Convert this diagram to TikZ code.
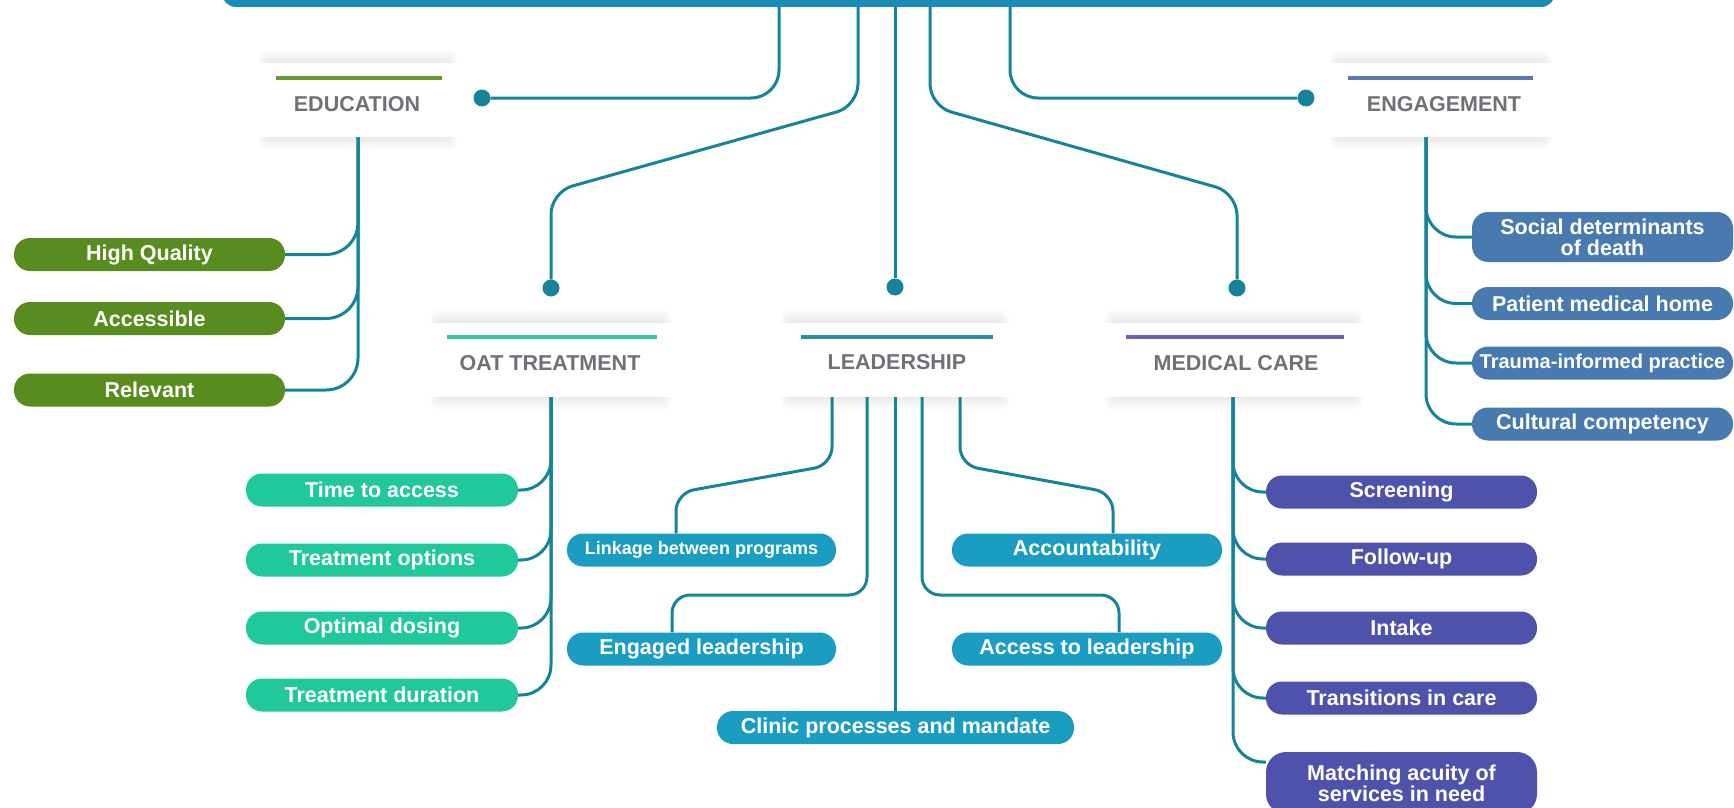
\documentclass[tikz,border=0pt]{standalone}
\usepackage{fontspec}
\setmainfont{Liberation Sans}
\usetikzlibrary{calc}
\pgfdeclarelayer{shadowlayer}
\pgfdeclarelayer{bg}
\pgfsetlayers{shadowlayer,bg,main}
\definecolor{barblue}{RGB}{26,139,180}
\definecolor{conncol}{RGB}{22,132,152}
\definecolor{edugreen}{RGB}{88,140,30}
\definecolor{oatgreen}{RGB}{32,200,155}
\definecolor{leadblue}{RGB}{27,156,193}
\definecolor{medpurple}{RGB}{79,82,170}
\definecolor{engblue}{RGB}{72,122,176}
\definecolor{titlegray}{RGB}{112,112,118}
\definecolor{eduline}{RGB}{104,152,48}
\definecolor{oatline}{RGB}{52,200,165}
\definecolor{leadline}{RGB}{45,140,160}
\definecolor{medline}{RGB}{105,98,182}
\definecolor{engline}{RGB}{88,122,176}
\tikzset{
  conn/.style={draw=conncol, line width=3pt},
  dotmark/.style={circle, fill=conncol, inner sep=0pt, minimum size=17pt},
  leaf/.style={rounded corners=16pt, minimum height=33pt, inner sep=0pt, text=white,
    font=\bfseries\fontsize{21.5}{21}\selectfont, align=center},
  card/.style={fill=white, minimum height=74pt, inner sep=0pt},
  cardtitle/.style={text=titlegray, font=\bfseries\fontsize{21.5}{24}\selectfont, inner sep=0pt},
  cardline/.style={line width=4pt},
}
\newcommand{\cardshadow}[4]{%
  \begin{pgfonlayer}{shadowlayer}
  \foreach \k in {1,...,10}{%
    \fill[black, opacity=0.0065, rounded corners=8pt] (#1+14-\k*0.6, #2-\k*1.3) rectangle (#3-14+\k*0.6, #4+\k*1.3);
  }
  \end{pgfonlayer}}
\begin{document}
\begin{tikzpicture}[x=1pt,y=-1pt]
\useasboundingbox (0,0) rectangle (1734,808);
\clip (0,0) rectangle (1734,808);

% top bar
\node[fill=barblue, rounded corners=14pt, minimum width=1333pt, minimum height=60pt, inner sep=0pt] (top) at (888.5,-23) {};

% dots
\node[dotmark] (d1) at (482,98) {};
\node[dotmark] (d2) at (551,288) {};
\node[dotmark] (d3) at (895,287) {};
\node[dotmark] (d4) at (1237,288) {};
\node[dotmark] (d5) at (1306,98) {};

% cards
\cardshadow{250.5}{63}{465.5}{137}
\node[card, minimum width=215pt] (educ) at (358,100) {};
\node[cardtitle] (educT) at (357,104) {EDUCATION};
\draw[cardline, eduline] ($(educ.north west)+(26,15)$) -- ($(educ.north east)+(-24,15)$);

\cardshadow{1321}{63}{1560}{137}
\node[card, minimum width=239pt] (eng) at (1440.5,100) {};
\node[cardtitle] (engT) at (1444,104) {ENGAGEMENT};
\draw[cardline, engline] ($(eng.north west)+(27,15)$) -- ($(eng.north east)+(-27,15)$);

\cardshadow{422.5}{322}{679.5}{397}
\node[card, minimum width=257pt] (oat) at (551,359.5) {};
\node[cardtitle] (oatT) at (550,363) {OAT TREATMENT};
\draw[cardline, oatline] ($(oat.north west)+(24.5,15)$) -- ($(oat.north east)+(-22.5,15)$);

\cardshadow{773}{322}{1017}{397}
\node[card, minimum width=244pt] (lead) at (895,359.5) {};
\node[cardtitle] (leadT) at (897,362.5) {LEADERSHIP};
\draw[cardline, leadline] ($(lead.north west)+(28,15)$) -- ($(lead.north east)+(-24,15)$);

\cardshadow{1097}{322}{1371}{397}
\node[card, minimum width=274pt] (med) at (1234,359.5) {};
\node[cardtitle] (medT) at (1236,363) {MEDICAL CARE};
\draw[cardline, medline] ($(med.north west)+(29,15)$) -- ($(med.north east)+(-27,15)$);

% education leaves
\node[leaf, fill=edugreen, minimum width=271pt] (hq) at (149.5,254.5) {High Quality};
\node[leaf, fill=edugreen, minimum width=271pt] (acc) at (149.5,318.5) {Accessible};
\node[leaf, fill=edugreen, minimum width=271pt] (rel) at (149.5,390) {Relevant};

% OAT leaves
\node[leaf, fill=oatgreen, minimum width=272pt] (tta) at (382,490) {Time to access};
\node[leaf, fill=oatgreen, minimum width=272pt] (topt) at (382,560) {Treatment options};
\node[leaf, fill=oatgreen, minimum width=272pt] (odos) at (382,628) {Optimal dosing};
\node[leaf, fill=oatgreen, minimum width=272pt] (tdur) at (382,695) {Treatment duration};

% leadership leaves
\node[leaf, fill=leadblue, minimum width=269pt, font=\bfseries\fontsize{18}{20}\selectfont] (link) at (701.5,550) {Linkage between programs};
\node[leaf, fill=leadblue, minimum width=269pt] (engl) at (701.5,649) {Engaged leadership};
\node[leaf, fill=leadblue, minimum width=357pt] (clin) at (895.5,727.5) {Clinic processes and mandate};
\node[leaf, fill=leadblue, minimum width=270pt] (acct) at (1087,550) {Accountability};
\node[leaf, fill=leadblue, minimum width=270pt] (accl) at (1087,649) {Access to leadership};

% medical leaves
\node[leaf, fill=medpurple, minimum width=271pt] (scr) at (1401.5,492) {Screening};
\node[leaf, fill=medpurple, minimum width=271pt] (fol) at (1401.5,559) {Follow-up};
\node[leaf, fill=medpurple, minimum width=271pt] (intk) at (1401.5,628) {Intake};
\node[leaf, fill=medpurple, minimum width=271pt] (trans) at (1401.5,698) {Transitions in care};
\node[leaf, fill=medpurple, minimum width=271pt, minimum height=62pt, rounded corners=20pt] (match) at (1401.5,783) {Matching acuity of\\services in need};

% engagement leaves
\node[leaf, fill=engblue, minimum width=261pt, minimum height=50pt] (soc) at (1602.5,237) {Social determinants\\of death};
\node[leaf, fill=engblue, minimum width=261pt] (pmh) at (1602.5,303.5) {Patient medical home};
\node[leaf, fill=engblue, minimum width=261pt, font=\bfseries\fontsize{20}{22}\selectfont] (tip) at (1602.5,363) {Trauma-informed practice};
\node[leaf, fill=engblue, minimum width=261pt] (cc) at (1602.5,424) {Cultural competency};

% connectors
\begin{pgfonlayer}{bg}
\draw[conn, rounded corners=28pt] (top.south -| 779,0) |- (d1);
\draw[conn, rounded corners=22pt] (top.south -| 858,0) -- (858,106) -- (551,192) -- (d2);
\draw[conn] (top.south -| 895,0) -- (d3);
\draw[conn, rounded corners=22pt] (top.south -| 930,0) -- (930,106) -- (1237,193) -- (d4);
\draw[conn, rounded corners=28pt] (top.south -| 1010,0) |- (d5);

\foreach \n in {hq,acc,rel}
  \draw[conn, rounded corners=32pt] (educ.south) |- (\n.east);
\foreach \n in {tta,topt,odos,tdur}
  \draw[conn, rounded corners=30pt] (oat.south) |- (\n.east);
\foreach \n in {scr,fol,intk,trans}
  \draw[conn, rounded corners=30pt] (med.south -| 1233,0) |- (\n.west);
\draw[conn, rounded corners=30pt] (med.south -| 1233,0) |- ($(match.west)+(0,-21)$);
\foreach \n in {soc,pmh,tip,cc}
  \draw[conn, rounded corners=30pt] (eng.south -| 1426,0) |- (\n.west);

\draw[conn, rounded corners=18pt] (lead.south -| 832,0) -- (832,465) -- (676,493) -- (link.north -| 676,0);
\draw[conn, rounded corners=18pt] (lead.south -| 867,0) -- (867,595) -- (672,595) -- (engl.north -| 672,0);
\draw[conn] (lead.south) -- (clin.north -| lead.south);
\draw[conn, rounded corners=18pt] (lead.south -| 922,0) -- (922,595) -- (1119,595) -- (accl.north -| 1119,0);
\draw[conn, rounded corners=18pt] (lead.south -| 960,0) -- (960,465) -- (1113,493) -- (acct.north -| 1113,0);
\end{pgfonlayer}
\end{tikzpicture}
\end{document}
